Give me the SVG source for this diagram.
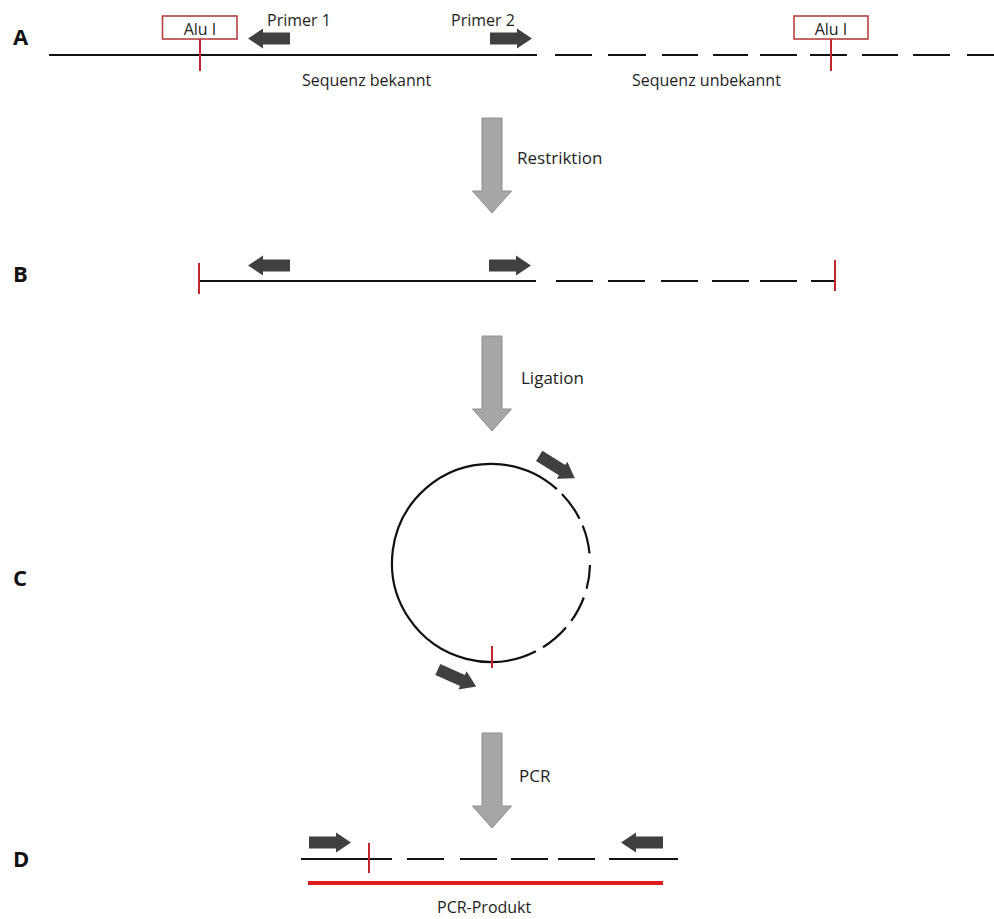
<svg xmlns="http://www.w3.org/2000/svg" xmlns:xlink="http://www.w3.org/1999/xlink" width="994" height="919" viewBox="0 0 994 919">
  <style>
    .lbl { font-family: "Open Sans", "Liberation Sans", sans-serif; font-size: 16px; fill: #1e1e1e; }
    .step { font-family: "Open Sans", "Liberation Sans", sans-serif; font-size: 17px; fill: #1e1e1e; }
    .panel { font-family: "Open Sans", "Liberation Sans", sans-serif; font-size: 22px; font-weight: 700; fill: #111; }
    .dna { stroke: #111; stroke-width: 2.2; fill: none; }
    .cut { stroke: #c0262c; stroke-width: 2; fill: none; }
    .enzbox { stroke: #b5403f; stroke-width: 1.6; fill: #fff; }
    .primer { fill: #404040; }
    .flow { fill: #a6a6a6; stroke: #8f8f8f; stroke-width: 1; }
    .product { stroke: #dc1c1c; stroke-width: 4; fill: none; }
  </style>
  <defs>
    <!-- primer arrow pointing right, centred on origin -->
    <path id="primerArrow" class="primer" d="M-21,-6 H6 V-10 L21,0 L6,10 V6 H-21 Z"/>
    <!-- process step arrow pointing down, top at origin -->
    <path id="stepArrow" class="flow" d="M-10,0 H10 V73 H19.5 L0,95 L-19.5,73 H-10 Z"/>
  </defs>

  <rect width="994" height="919" fill="#fff"/>

  <!-- panel letters -->
  <g id="panel-labels">
    <text class="panel" x="13" y="45">A</text>
    <text class="panel" x="13" y="282">B</text>
    <text class="panel" x="13" y="586">C</text>
    <text class="panel" x="13" y="867">D</text>
  </g>

  <!-- A: genomic DNA with known and unknown sequence -->
  <g id="strand-a">
    <path class="dna" d="M49,55 H537"/>
    <path class="dna" d="M555,55 H592 M608,55 H646 M662,55 H698 M713,55 H748 M760,55 H797 M810,55 H847 M862,55 H898 M913,55 H950 M967,55 H994"/>
    <text class="lbl" x="302" y="86">Sequenz bekannt</text>
    <text class="lbl" x="632" y="86">Sequenz unbekannt</text>
  </g>
  <g id="alu-site-left">
    <path class="cut" d="M200,39 V71"/>
    <rect class="enzbox" x="162.5" y="16" width="74.5" height="23"/>
    <text class="lbl" x="200" y="34.5" text-anchor="middle" font-size="18">Alu I</text>
  </g>
  <g id="alu-site-right">
    <path class="cut" d="M831,39 V71"/>
    <rect class="enzbox" x="794" y="16" width="74" height="23"/>
    <text class="lbl" x="831" y="34.5" text-anchor="middle" font-size="18">Alu I</text>
  </g>
  <g id="primer-1">
    <use xlink:href="#primerArrow" transform="translate(269,38.5) rotate(180)"/>
    <text class="lbl" x="267" y="26">Primer 1</text>
  </g>
  <g id="primer-2">
    <use xlink:href="#primerArrow" transform="translate(511,38.5)"/>
    <text class="lbl" x="451" y="26">Primer 2</text>
  </g>

  <!-- B: restriction fragment -->
  <g id="fragment-b">
    <path class="dna" d="M199,281 H536"/>
    <path class="dna" d="M556,281 H593 M608,281 H645 M661,281 H698 M712,281 H749 M760,281 H797 M811,281 H835"/>
    <path class="cut" d="M199,263 V294"/>
    <path class="cut" d="M835,260 V291"/>
    <use xlink:href="#primerArrow" transform="translate(269,265.5) rotate(180)"/>
    <use xlink:href="#primerArrow" transform="translate(510,265.5)"/>
  </g>

  <!-- C: circularised fragment -->
  <g id="circle-c">
    <path class="dna" d="M535.9,651.2 A99,99 0 1 1 556.9,489.1"/>
    <path class="dna" d="M561.9,493.9 A99,99 0 0 1 579.5,518.7 M582.7,525.6 A99,99 0 0 1 589.5,553.3 M590,565.1 A99,99 0 0 1 586.6,588.8 M583.8,597.5 A99,99 0 0 1 571.3,620.9 M566,627.5 A99,99 0 0 1 543,647.2"/>
    <path class="cut" d="M492,646 V668"/>
    <use xlink:href="#primerArrow" transform="translate(557,467) rotate(32)"/>
    <use xlink:href="#primerArrow" transform="translate(457,678) rotate(24)"/>
  </g>

  <!-- D: linear PCR template and product -->
  <g id="template-d">
    <path class="dna" d="M301,859 H392 M407,859 H444 M460,859 H497 M511,859 H548 M558,859 H595 M609,859 H678"/>
    <path class="cut" d="M369,843 V873"/>
    <use xlink:href="#primerArrow" transform="translate(330,842.5)"/>
    <use xlink:href="#primerArrow" transform="translate(642,842.5) rotate(180)"/>
  </g>
  <g id="pcr-product">
    <path class="product" d="M308,883 H663"/>
    <text class="lbl" x="437" y="913" font-size="17">PCR-Produkt</text>
  </g>

  <!-- process steps -->
  <g id="connectors">
    <g id="step-restriktion">
      <use xlink:href="#stepArrow" transform="translate(492,118)"/>
      <text class="step" x="517" y="164">Restriktion</text>
    </g>
    <g id="step-ligation">
      <use xlink:href="#stepArrow" transform="translate(492,336)"/>
      <text class="step" x="521" y="384">Ligation</text>
    </g>
    <g id="step-pcr">
      <use xlink:href="#stepArrow" transform="translate(492,733)"/>
      <text class="step" x="519" y="782">PCR</text>
    </g>
  </g>
</svg>
